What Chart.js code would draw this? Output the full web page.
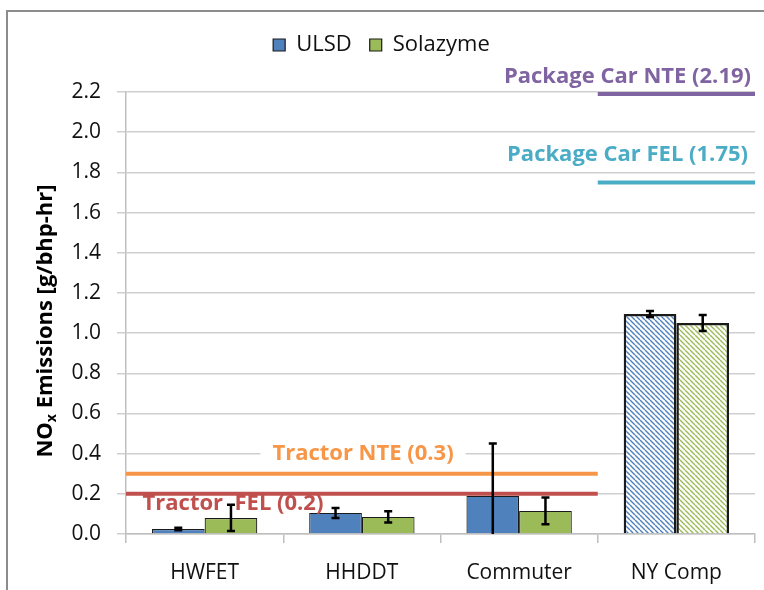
<!DOCTYPE html>
<html>
<head>
<meta charset="utf-8">
<script src="https://cdn.jsdelivr.net/npm/chart.js@4.4.1/dist/chart.umd.min.js"></script>
<style>
  body { margin: 0; background: #fff; }
  #wrap { width: 764px; height: 590px; }
</style>
</head>
<body>
<div id="wrap"><canvas id="noxChart" width="764" height="590"></canvas></div>
<script>
const categories = ['HWFET', 'HHDDT', 'Commuter', 'NY Comp'];
const ulsdValues = [0.025, 0.105, 0.19, 1.095];
const ulsdErrors = [0.006, 0.025, 0.26, 0.015];
const solazymeValues = [0.08, 0.085, 0.115, 1.05];
const solazymeErrors = [0.065, 0.028, 0.067, 0.04];
const hatchedCats = [false, false, false, true];

const limitNames = ['Tractor NTE (0.3)', 'Tractor  FEL (0.2)', 'Package Car NTE (2.19)', 'Package Car FEL (1.75)'];
const limitValues = [0.3, 0.2, 2.19, 1.75];
const limitColors = ['#F79646', '#C0504D', '#8064A2', '#4BACC6'];
const limitFrom = [0, 0, 3, 3];
const limitTo = [2, 2, 3, 3];

const FONT = '"Open Sans", Lato, sans-serif';
const BLUE = '#4F81BD';
const GREEN = '#9BBB59';

function makeHatch(color) {
    const size = 5;
    const c = document.createElement('canvas');
    c.width = size; c.height = size;
    const g = c.getContext('2d');
    g.fillStyle = '#fff';
    g.fillRect(0, 0, size, size);
    g.strokeStyle = color;
    g.lineWidth = 1.4;
    for (const k of [-size, 0, size]) {
        g.beginPath();
        g.moveTo(k, 0);
        g.lineTo(k + size, size);
        g.stroke();
    }
    return g.createPattern(c, 'repeat');
}
const blueHatch = makeHatch(BLUE);
const greenHatch = makeHatch(GREEN);

// label spots: x offset inside chart area (px), y in data units, text align
const labelSpots = [
    { x: 237, y: 0.40, align: 'center', box: true },
    { x: 107, y: 0.153, align: 'center', box: false },
    { x: 625, y: 2.275, align: 'right', box: false },
    { x: 622, y: 1.89, align: 'right', box: false }
];

const extras = {
    id: 'extras',
    beforeLayout(chart) {
        // leave room between the legend and the plot
        const lg = chart.legend;
        if (lg && !lg._padded) {
            const fit = lg.fit.bind(lg);
            lg.fit = function () { fit(); this.height += 26; };
            lg._padded = true;
        }
    },
    afterDatasetsDraw(chart) {
        const ctx = chart.ctx;
        const y = chart.scales.y;
        const x = chart.scales.x;
        const area = chart.chartArea;
        const catW = (area.right - area.left) / categories.length;

        // limit lines
        ctx.save();
        ctx.lineWidth = 4;
        limitValues.forEach((v, i) => {
            const py = y.getPixelForValue(v);
            const x0 = x.getPixelForValue(limitFrom[i]) - catW / 2;
            const x1 = x.getPixelForValue(limitTo[i]) + catW / 2;
            ctx.strokeStyle = limitColors[i];
            ctx.beginPath();
            ctx.moveTo(x0, py);
            ctx.lineTo(x1, py);
            ctx.stroke();
        });
        ctx.restore();

        // error bars
        const errs = [ulsdErrors, solazymeErrors];
        const vals = [ulsdValues, solazymeValues];
        ctx.save();
        ctx.strokeStyle = '#000';
        ctx.lineWidth = 2.5;
        chart.data.datasets.forEach((ds, d) => {
            const meta = chart.getDatasetMeta(d);
            meta.data.forEach((bar, i) => {
                const top = y.getPixelForValue(vals[d][i] + errs[d][i]);
                const bot = y.getPixelForValue(Math.max(0, vals[d][i] - errs[d][i]));
                ctx.beginPath();
                ctx.moveTo(bar.x, top);
                ctx.lineTo(bar.x, bot);
                ctx.moveTo(bar.x - 4, top);
                ctx.lineTo(bar.x + 4, top);
                if (vals[d][i] - errs[d][i] > 0) {
                    ctx.moveTo(bar.x - 4, bot);
                    ctx.lineTo(bar.x + 4, bot);
                }
                ctx.stroke();
            });
        });
        ctx.restore();

        // limit labels
        ctx.save();
        ctx.font = 'bold 22px ' + FONT;
        ctx.textBaseline = 'middle';
        limitNames.forEach((name, i) => {
            const s = labelSpots[i];
            const px = area.left + s.x;
            const py = y.getPixelForValue(s.y);
            ctx.textAlign = s.align;
            if (s.box) {
                const w = ctx.measureText(name).width;
                ctx.fillStyle = '#fff';
                ctx.fillRect(px - w / 2 - 12, py - 14, w + 24, 28);
            }
            ctx.fillStyle = limitColors[i];
            ctx.fillText(name, px, py);
        });
        ctx.restore();
    },
    afterDraw(chart) {
        const ctx = chart.ctx;
        // y axis title with subscript
        ctx.save();
        ctx.translate(46, 321);
        ctx.rotate(-Math.PI / 2);
        ctx.fillStyle = '#000';
        ctx.textBaseline = 'middle';
        ctx.textAlign = 'left';
        const big = 'bold 22px ' + FONT;
        const small = 'bold 14px ' + FONT;
        ctx.font = big;
        const w1 = ctx.measureText('NO').width;
        const w3 = ctx.measureText(' Emissions [g/bhp-hr]').width;
        ctx.font = small;
        const w2 = ctx.measureText('x').width;
        let cx = -(w1 + w2 + w3) / 2;
        ctx.font = big;
        ctx.fillText('NO', cx, 0);
        cx += w1;
        ctx.font = small;
        ctx.fillText('x', cx, 6);
        cx += w2;
        ctx.font = big;
        ctx.fillText(' Emissions [g/bhp-hr]', cx, 0);
        ctx.restore();

        // frame
        ctx.save();
        ctx.strokeStyle = '#8c8c8c';
        ctx.lineWidth = 2;
        ctx.beginPath();
        ctx.moveTo(7, 590);
        ctx.lineTo(7, 11);
        ctx.lineTo(764, 11);
        ctx.stroke();
        ctx.restore();
    }
};

const pick = (solid, hatch) => (c) => (c.type === 'data' && hatchedCats[c.dataIndex]) ? hatch : solid;
const edge = (c) => (c.type === 'data' && hatchedCats[c.dataIndex]) ? 2.5 : 1.2;

new Chart(document.getElementById('noxChart'), {
    type: 'bar',
    data: {
        labels: categories,
        datasets: [{
            label: 'ULSD',
            data: ulsdValues,
            backgroundColor: pick(BLUE, blueHatch),
            borderColor: '#1a1a1a',
            borderWidth: edge
        }, {
            label: 'Solazyme',
            data: solazymeValues,
            backgroundColor: pick(GREEN, greenHatch),
            borderColor: '#1a1a1a',
            borderWidth: edge
        }]
    },
    options: {
        responsive: false,
        animation: false,
        categoryPercentage: 0.67,
        barPercentage: 1.0,
        layout: { padding: { left: 8, right: 9, top: 16, bottom: 0 } },
        scales: {
            x: {
                grid: { drawOnChartArea: false, offset: true, tickLength: 9, color: '#bfbfbf', lineWidth: 1.5 },
                border: { color: '#bfbfbf', width: 1.5 },
                ticks: { color: '#111', font: { family: FONT, size: 21 }, padding: 17 },
                afterFit(scale) { scale.height = 56; }
            },
            y: {
                min: 0,
                max: 2.2,
                ticks: {
                    stepSize: 0.2,
                    color: '#111',
                    font: { family: FONT, size: 21 },
                    padding: 16,
                    callback: (v) => v.toFixed(1)
                },
                grid: { color: '#cfcfcf', lineWidth: 1.5, tickLength: 9 },
                border: { color: '#bfbfbf', width: 1.5 },
                afterFit(scale) { scale.width = 118; }
            }
        },
        plugins: {
            legend: {
                position: 'top',
                labels: {
                    color: '#111',
                    font: { family: FONT, size: 22 },
                    boxWidth: 12,
                    boxHeight: 12,
                    padding: 18
                }
            },
            tooltip: { enabled: false }
        }
    },
    plugins: [extras]
});
</script>
</body>
</html>
